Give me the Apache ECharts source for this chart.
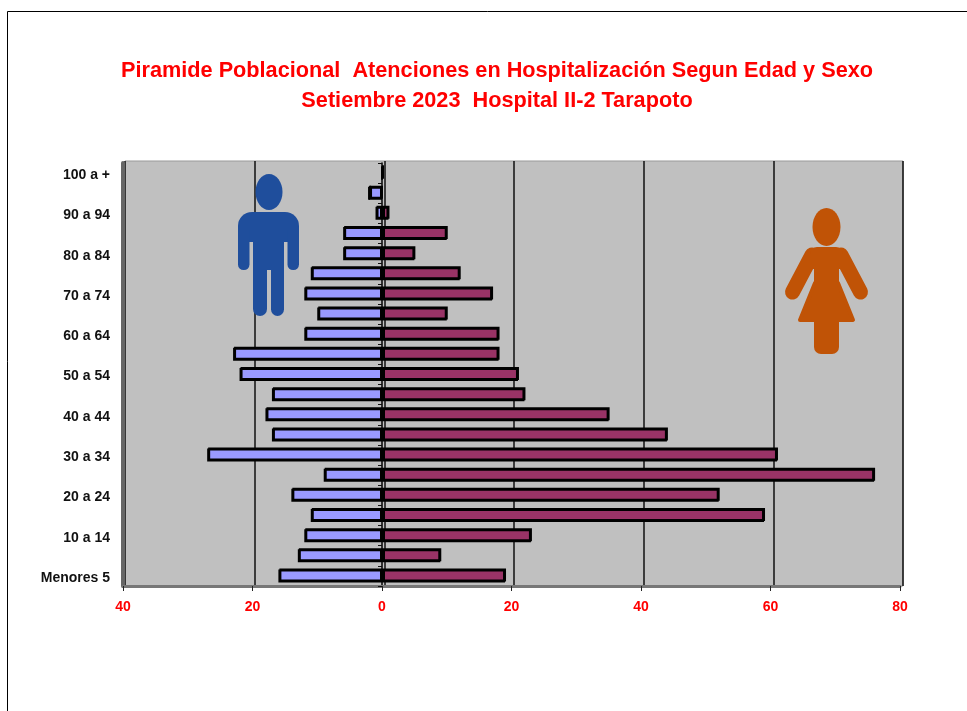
<!DOCTYPE html>
<html><head><meta charset="utf-8">
<style>html,body{margin:0;padding:0;background:#fff}#c{width:967px;height:711px}</style>
<script src="https://cdn.jsdelivr.net/npm/echarts@6/dist/echarts.min.js"></script>
</head><body><div id="c"></div>
<script>
const categories=['Menores 5','5 a 9','10 a 14','15 a 19','20 a 24','25 a 29','30 a 34','35 a 39','40 a 44','45 a 49','50 a 54','55 a 59','60 a 64','65 a 69','70 a 74','75 a 79','80 a 84','85 a 89','90 a 94','95 a 99','100 a +'];
const hombres=[16,13,12,11,14,9,27,17,18,17,22,23,12,10,12,11,6,6,1,2,0];
const mujeres=[19,9,23,59,52,76,61,44,35,22,21,18,18,10,17,12,5,10,1,0,0];
const titulo='Piramide Poblacional  Atenciones en Hospitalización Segun Edad y Sexo\nSetiembre 2023  Hospital II-2 Tarapoto';
const FONT='"Liberation Sans",Arial,sans-serif';
const AZUL='#1F4E9C', NAR='#C05306';
const chart=echarts.init(document.getElementById('c'));
chart.setOption({
  animation:false,
  title:{text:titulo,left:492,top:51,textAlign:'center',textStyle:{color:'#FF0000',fontFamily:FONT,fontWeight:'bold',fontSize:21.7,lineHeight:30}},
  grid:[
    {left:125,right:64,top:161,bottom:125,show:true,backgroundColor:'#C0C0C0',borderColor:'#999',borderWidth:1,z:0},
    {left:123,right:67,top:163,bottom:125,z:2},
    {left:123,right:67,top:165,bottom:123,z:2}
  ],
  xAxis:[
    {gridIndex:0,type:'value',min:-40,max:80,interval:20,axisLabel:{show:false},axisTick:{show:false},axisLine:{show:false},
     splitLine:{show:true,lineStyle:{color:'#111',width:1.5}}},
    {gridIndex:1,type:'value',min:-40,max:80,interval:20,
     axisLabel:{color:'#FF0000',fontFamily:FONT,fontWeight:'bold',fontSize:14,margin:14,formatter:v=>Math.abs(v)},
     axisTick:{show:true,length:5,lineStyle:{color:'#222',width:1}},
     axisLine:{show:true,onZero:false,lineStyle:{color:'#777',width:3}},splitLine:{show:false}},
    {gridIndex:2,type:'value',min:-40,max:80,interval:20,show:false}
  ],
  yAxis:[
    {gridIndex:0,type:'category',data:categories,axisLabel:{show:false},axisTick:{show:false},axisLine:{show:false}},
    {gridIndex:1,type:'category',data:categories,position:'left',
     axisLabel:{show:false},
     axisTick:{show:true,length:4,lineStyle:{color:'#111',width:1}},
     axisLine:{show:true,onZero:true,lineStyle:{color:'#000',width:1.5}}},
    {gridIndex:1,type:'category',data:categories,position:'left',
     axisLabel:{show:false},axisTick:{show:false},axisLine:{show:true,onZero:false,lineStyle:{color:'#666',width:4}}},
    {gridIndex:2,type:'category',data:categories,position:'left',
     axisLabel:{interval:1,color:'#111',fontFamily:FONT,fontWeight:'bold',fontSize:14,margin:13},
     axisTick:{show:false},axisLine:{show:false,onZero:false}}
  ],
  series:[
    {name:'Hombres',type:'bar',xAxisIndex:1,yAxisIndex:1,stack:'p',barWidth:13,z:3,
     data:hombres.map(v=>-v),itemStyle:{color:'#9999FF',borderColor:'#000',borderWidth:2,shadowColor:'#000',shadowBlur:0,shadowOffsetX:1,shadowOffsetY:-1}},
    {name:'Mujeres',type:'bar',xAxisIndex:1,yAxisIndex:1,stack:'p',barWidth:13,z:3,
     data:mujeres,itemStyle:{color:'#993366',borderColor:'#000',borderWidth:2,shadowColor:'#000',shadowBlur:0,shadowOffsetX:1,shadowOffsetY:-1}}
  ],
  graphic:[
    {type:'line',z:10,shape:{x1:7.5,y1:11.5,x2:967,y2:11.5},style:{stroke:'#000',lineWidth:1}},
    {type:'line',z:10,shape:{x1:7.5,y1:11.5,x2:7.5,y2:711},style:{stroke:'#000',lineWidth:1}},
    {type:'ellipse',z:20,shape:{cx:269,cy:192,rx:13.500,ry:18},style:{fill:AZUL}},
    {type:'rect',z:20,shape:{x:238,y:212,width:61,height:30,r:[14,14,0,0]},style:{fill:AZUL}},
    {type:'rect',z:20,shape:{x:238,y:230,width:11.500,height:40,r:[0,0,5.500,5.500]},style:{fill:AZUL}},
    {type:'rect',z:20,shape:{x:287.500,y:230,width:11.500,height:40,r:[0,0,5.500,5.500]},style:{fill:AZUL}},
    {type:'rect',z:20,shape:{x:253,y:230,width:31,height:40},style:{fill:AZUL}},
    {type:'rect',z:20,shape:{x:253,y:262,width:14,height:54,r:[0,0,7,7]},style:{fill:AZUL}},
    {type:'rect',z:20,shape:{x:271,y:262,width:13,height:54,r:[0,0,6.500,6.500]},style:{fill:AZUL}},
    {type:'ellipse',z:20,shape:{cx:826.500,cy:227,rx:14,ry:19},style:{fill:NAR}},
    {type:'polyline',z:20,shape:{points:[[812,255],[792.500,292]]},style:{stroke:NAR,lineWidth:15,lineCap:'round',fill:null}},
    {type:'polyline',z:20,shape:{points:[[841,255],[860.500,292]]},style:{stroke:NAR,lineWidth:15,lineCap:'round',fill:null}},
    {type:'rect',z:20,shape:{x:810,y:247,width:33,height:22,r:[7,7,0,0]},style:{fill:NAR}},
    {type:'rect',z:20,shape:{x:814,y:255,width:25,height:35},style:{fill:NAR}},
    {type:'polygon',z:20,shape:{points:[[815,283],[838,283],[853,320],[800,320]]},style:{fill:NAR,stroke:NAR,lineWidth:4,lineJoin:'round'}},
    {type:'rect',z:20,shape:{x:814,y:315,width:25,height:39,r:[0,0,7,7]},style:{fill:NAR}}
  ]
});
</script></body></html>
